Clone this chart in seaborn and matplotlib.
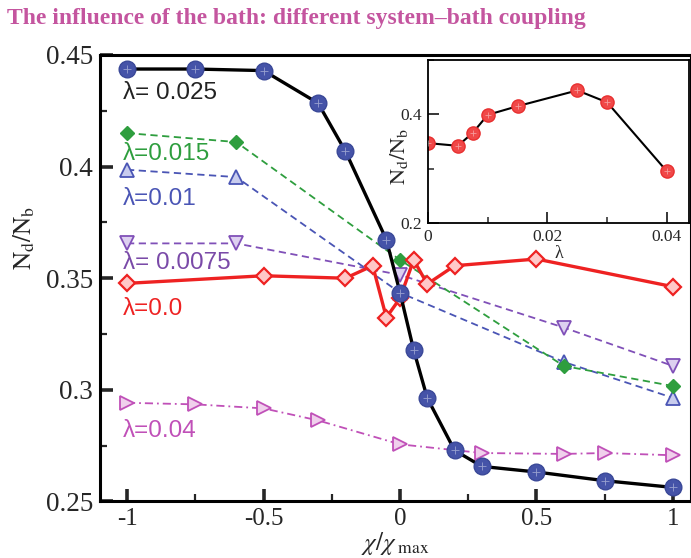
import numpy as np
import matplotlib
matplotlib.use("Agg")
import matplotlib.pyplot as plt
from matplotlib.ticker import MultipleLocator
import seaborn as sns

# --- data ---
chi_025 = [-1, -0.75, -0.5, -0.3, -0.2, -0.05, 0, 0.05, 0.1, 0.2, 0.3, 0.5, 0.75, 1]
nd_025 = [0.4437, 0.4437, 0.443, 0.4284, 0.4069, 0.3673, 0.3436, 0.3179, 0.2963,
          0.2729, 0.2657, 0.2632, 0.2593, 0.2563]

chi_015 = [-1, -0.6, 0, 0.6, 1]
nd_015 = [0.415, 0.411, 0.3582, 0.3107, 0.3017]

chi_01 = [-1, -0.6, 0, 0.6, 1]
nd_01 = [0.3986, 0.3953, 0.3435, 0.3125, 0.2964]

chi_0075 = [-1, -0.6, 0, 0.6, 1]
nd_0075 = [0.3656, 0.3656, 0.3515, 0.3279, 0.3107]

chi_0 = [-1, -0.5, -0.2, -0.1, -0.05, 0, 0.05, 0.1, 0.2, 0.5, 1]
nd_0 = [0.3477, 0.3511, 0.350, 0.3556, 0.3324, 0.341, 0.3582, 0.3474, 0.3556, 0.3586, 0.3462]

chi_04 = [-1, -0.75, -0.5, -0.3, 0, 0.3, 0.6, 0.75, 1]
nd_04 = [0.2942, 0.2935, 0.2917, 0.2863, 0.2756, 0.2717, 0.2713, 0.2717, 0.2707]

# inset: N_d/N_b at chi/chi_max = -1 versus lambda
lam = [0, 0.005, 0.0075, 0.01, 0.015, 0.025, 0.03, 0.04]
nd_lam = [0.347, 0.342, 0.366, 0.399, 0.415, 0.444, 0.422, 0.295]

labels = ["λ= 0.025", "λ=0.015", "λ=0.01", "λ= 0.0075", "λ=0.0", "λ=0.04"]
label_y = [0.433, 0.4058, 0.3857, 0.357, 0.3363, 0.2815]
label_colors = ["#222222", "#2e9e3e", "#4a55b5", "#7a4aa8", "#ee2222", "#c050b8"]

title = "The influence of the bath: different system\u2013bath coupling"

sns.set_style("ticks")
plt.rcParams["font.family"] = ["Liberation Serif", "DejaVu Serif"]
plt.rcParams["mathtext.fontset"] = "stix"
plt.rcParams["axes.unicode_minus"] = False

fig = plt.figure(figsize=(6.91, 5.58), dpi=100)
ax = fig.add_axes([0.1447, 0.1013, 0.8553, 0.8002])

# dashed / dash-dot curves first, solid ones on top
sns.lineplot(x=chi_04, y=nd_04, ax=ax, color="#c050b8", lw=1.3,
             linestyle=(0, (4.5, 2.2, 1, 2.2)), marker=">", markersize=10,
             markerfacecolor="#f0d0ec", markeredgecolor="#c050b8",
             markeredgewidth=1.3, estimator=None)
sns.lineplot(x=chi_0075, y=nd_0075, ax=ax, color="#8050b8", lw=1.3,
             linestyle=(0, (4, 2.5)), marker="v", markersize=9.5,
             markerfacecolor="#ddd0f0", markeredgecolor="#8050b8",
             markeredgewidth=1.3, estimator=None)
sns.lineplot(x=chi_01, y=nd_01, ax=ax, color="#4a55b5", lw=1.3,
             linestyle=(0, (4, 2.5)), marker="^", markersize=9.5,
             markerfacecolor="#c8ccee", markeredgecolor="#4a55b5",
             markeredgewidth=1.3, estimator=None)
sns.lineplot(x=chi_015, y=nd_015, ax=ax, color="#2e9e3e", lw=1.3,
             linestyle=(0, (4, 2.5)), marker="D", markersize=7,
             markerfacecolor="#2e9e3e", markeredgecolor="#2e9e3e",
             markeredgewidth=1.0, estimator=None)
sns.lineplot(x=chi_0, y=nd_0, ax=ax, color="#ee2222", lw=2.4,
             marker="D", markersize=8.5, markerfacecolor="#ffc8c8",
             markeredgecolor="#ee2222", markeredgewidth=1.6, estimator=None)
sns.lineplot(x=chi_025, y=nd_025, ax=ax, color="black", lw=2.4,
             marker="o", markersize=12, markerfacecolor="#4553a8",
             markeredgecolor="#3a4898", markeredgewidth=1.0, estimator=None)
sns.scatterplot(x=chi_025, y=nd_025, ax=ax, marker="+", color="white", s=40,
                linewidth=0.6, alpha=0.45, zorder=5)

for txt, yy, cc in zip(labels, label_y, label_colors):
    ax.text(-1.015, yy, txt, color=cc, fontsize=17.5, va="center", ha="left",
            family=["Liberation Sans", "DejaVu Sans"])

ax.set_xlim(-1.099, 1.066)
ax.set_ylim(0.25, 0.45)
ax.xaxis.set_major_locator(MultipleLocator(0.5))
ax.xaxis.set_minor_locator(MultipleLocator(0.25))
ax.yaxis.set_major_locator(MultipleLocator(0.05))
ax.yaxis.set_minor_locator(MultipleLocator(0.025))
ax.set_xticks([-1, -0.5, 0, 0.5, 1])
ax.set_xticklabels(["-1", "-0.5", "0", "0.5", "1"])
ax.set_yticks([0.25, 0.3, 0.35, 0.4, 0.45])
ax.set_yticklabels(["0.25", "0.3", "0.35", "0.4", "0.45"])
ax.tick_params(which="major", direction="in", length=9, width=2.6, pad=6)
ax.tick_params(which="minor", direction="in", length=5, width=1.6)
ax.tick_params(axis="y", labelsize=19.5, pad=5)
ax.tick_params(axis="x", labelsize=18, pad=5)
ax.tick_params(top=False, right=False, which="both")
for sp in ax.spines.values():
    sp.set_linewidth(2.2)
    sp.set_color("black")

ax.set_xlabel(r"$\chi/\chi_{\ \rm max}$", fontsize=18, labelpad=-0.5)
ax.set_ylabel(r"$\mathrm{N_d/N_b}$", fontsize=18)
ax.yaxis.set_label_coords(-0.107, 0.59)

fig.text(0.01, 0.967, title, color="#c4559f", fontsize=17, fontweight="bold",
         va="center", ha="left")

# --- inset ---
axi = fig.add_axes([0.6194, 0.6004, 0.3777, 0.2921])
sns.lineplot(x=lam, y=nd_lam, ax=axi, color="black", lw=1.5, marker="o",
             markersize=9.5, markerfacecolor="#f04848", markeredgecolor="#e83030",
             markeredgewidth=1.0, estimator=None)
sns.scatterplot(x=lam, y=nd_lam, ax=axi, marker="+", color="white", s=25,
                linewidth=0.6, alpha=0.45, zorder=5)
axi.set_xlim(0, 0.0437)
axi.set_ylim(0.2, 0.5)
axi.set_xticks([0, 0.02, 0.04])
axi.set_xticklabels(["0", "0.02", "0.04"])
axi.xaxis.set_minor_locator(MultipleLocator(0.01))
axi.set_yticks([0.2, 0.4])
axi.set_yticklabels(["0.2", "0.4"])
axi.yaxis.set_minor_locator(MultipleLocator(0.1))
axi.tick_params(which="major", direction="in", length=8, width=1.3,
                labelsize=12.5, pad=4)
axi.tick_params(which="minor", direction="in", length=4.5, width=1.1)
axi.tick_params(top=False, right=False, which="both")
for sp in axi.spines.values():
    sp.set_linewidth(1.3)
    sp.set_color("black")
axi.set_xlabel("λ", fontsize=13, labelpad=0)
axi.set_ylabel(r"$\mathrm{N_d/N_b}$", fontsize=16)
axi.yaxis.set_label_coords(-0.07, 0.41)

fig.savefig("out.png", dpi=100)
